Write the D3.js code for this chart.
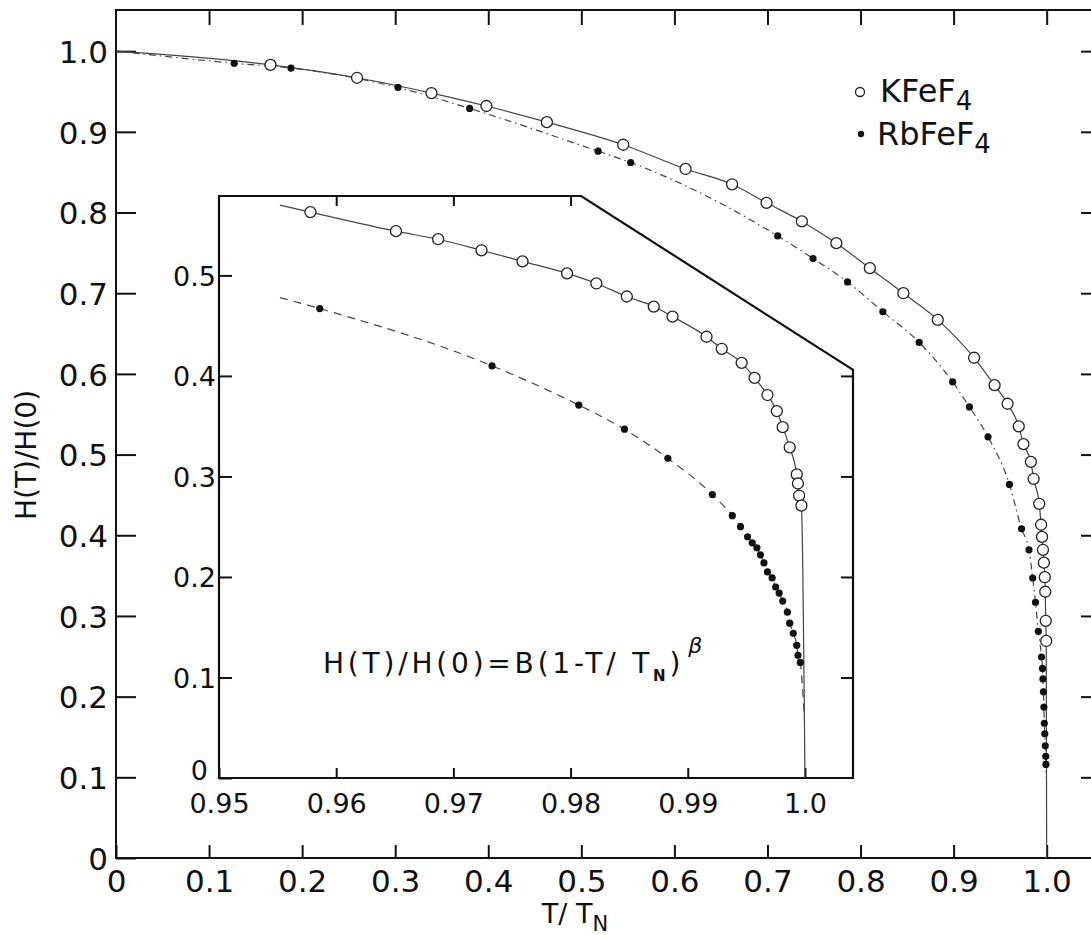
<!DOCTYPE html>
<meta charset="utf-8">
<style>
body { margin: 0; background: #fff; }
text { font-family: "DejaVu Sans", "Liberation Sans", sans-serif; fill: #111; }
.frame { fill: none; stroke: #111; stroke-width: 2px; }
.tick line { stroke: #111; stroke-width: 2px; }
.fit { fill: none; stroke: #444; stroke-width: 1.2px; }
</style>
<body>
<div id="chart"></div>
<script src="https://d3js.org/d3.v7.min.js"></script>
<script>
// main plot points [T/TN, H(T)/H(0)]
var kfeMain = [[0.166,0.983],[0.259,0.967],[0.339,0.948],[0.398,0.932],[0.463,0.912],[0.545,0.884],
  [0.612,0.854],[0.662,0.835],[0.699,0.812],[0.737,0.789],[0.774,0.762],[0.810,0.731],[0.846,0.700],
  [0.883,0.667],[0.922,0.620],[0.944,0.586],[0.958,0.563],[0.970,0.535],[0.975,0.513],[0.983,0.491],
  [0.986,0.470],[0.992,0.439],[0.994,0.413],[0.995,0.398],[0.996,0.382],[0.997,0.366],[0.998,0.348],
  [0.9985,0.330],[0.999,0.294],[0.9995,0.269]];
var rbfeMain = [[0.127,0.985],[0.188,0.979],[0.303,0.955],[0.380,0.929],[0.518,0.876],[0.553,0.862],
  [0.711,0.771],[0.749,0.743],[0.786,0.714],[0.824,0.677],[0.863,0.639],[0.899,0.590],[0.917,0.559],
  [0.937,0.522],[0.960,0.463],[0.973,0.408],[0.981,0.382],[0.985,0.347],[0.988,0.317],[0.991,0.281],
  [0.9945,0.249],[0.9955,0.235],[0.996,0.222],[0.9965,0.206],[0.997,0.187],[0.9975,0.167],
  [0.998,0.154],[0.9985,0.139],[0.999,0.126],[0.9992,0.116]];
// fit lines start / end
var kfeMainEnds = [[0,1.0],[1.0,0]];
var rbfeMainEnds = [[0,1.0],[0.9995,0.10]];

// inset points
var kfeInset = [[0.9578,0.563],[0.9651,0.544],[0.9687,0.536],[0.9724,0.525],[0.9759,0.514],[0.9797,0.502],
  [0.9822,0.492],[0.9848,0.479],[0.9871,0.469],[0.9887,0.459],[0.9916,0.439],[0.9929,0.427],[0.9946,0.413],
  [0.9957,0.398],[0.9968,0.381],[0.9976,0.365],[0.9981,0.349],[0.9987,0.329],[0.9993,0.302],[0.9994,0.293],
  [0.9995,0.281],[0.9997,0.271]];
var rbfeInset = [[0.9586,0.467],[0.9733,0.410],[0.9807,0.371],[0.9846,0.347],[0.9883,0.318],[0.9921,0.282],
  [0.9938,0.261],[0.9945,0.250],[0.9951,0.240],[0.9955,0.234],[0.9959,0.229],[0.9962,0.222],[0.9965,0.214],
  [0.9968,0.205],[0.9972,0.199],[0.9975,0.190],[0.9978,0.184],[0.9981,0.176],[0.9985,0.165],[0.9987,0.154],
  [0.9990,0.144],[0.9993,0.132],[0.9994,0.122],[0.9996,0.115]];
var kfeInsetEnds = [[0.9552,0.570],[1.0,0]];
var rbfeInsetEnds = [[0.9552,0.478],[0.99995,0.06]];

// tick labels
var mainXTicks = [0,0.1,0.2,0.3,0.4,0.5,0.6,0.7,0.8,0.9,1.0];
var mainYTicks = [0,0.1,0.2,0.3,0.4,0.5,0.6,0.7,0.8,0.9,1.0];
var insetXTicks = [0.95,0.96,0.97,0.98,0.99,1.0];
var insetYTicks = [0,0.1,0.2,0.3,0.4,0.5];

var width = 1091, height = 935;
var svg = d3.select("#chart").append("svg")
    .attr("width", width)
    .attr("height", height);

// main scales (frame runs past the right edge of the picture)
var x = d3.scaleLinear().domain([0, 1.053]).range([116, 1096]);
var y = d3.scaleLinear().domain([0, 1.051]).range([858, 10]);

function fmtMain(d) { return d === 0 ? "0" : d3.format(".1f")(d); }

// main frame
svg.append("rect").attr("class", "frame")
    .attr("x", x(0)).attr("y", y(1.051))
    .attr("width", x(1.053) - x(0)).attr("height", y(0) - y(1.051));

// main axes, ticks point inward
var gx = svg.append("g").attr("transform", "translate(0," + y(0) + ")")
    .call(d3.axisBottom(x).tickValues(mainXTicks).tickFormat(fmtMain)
      .tickSizeInner(-13).tickSizeOuter(0).tickPadding(12));
var gy = svg.append("g").attr("transform", "translate(" + x(0) + ",0)")
    .call(d3.axisLeft(y).tickValues(mainYTicks).tickFormat(fmtMain)
      .tickSizeInner(-20).tickSizeOuter(0).tickPadding(8));
var gt = svg.append("g").attr("transform", "translate(0," + y(1.051) + ")")
    .call(d3.axisTop(x).tickValues(mainXTicks.slice(1)).tickFormat("")
      .tickSizeInner(-15).tickSizeOuter(0));
var gr = svg.append("g").attr("transform", "translate(" + x(1.053) + ",0)")
    .call(d3.axisRight(y).tickValues(mainYTicks.slice(1)).tickFormat("")
      .tickSizeInner(-15).tickSizeOuter(0));
[gx, gy, gt, gr].forEach(function(g) {
  g.select(".domain").remove();
  g.selectAll("text").style("font-size", "31px").attr("fill", "#111");
});
gy.selectAll("text").attr("dy", "0.36em");

// main fit lines
var line = d3.line()
    .x(function(d) { return x(d[0]); })
    .y(function(d) { return y(d[1]); })
    .curve(d3.curveMonotoneX);
svg.append("path").attr("class", "fit")
    .attr("d", line([kfeMainEnds[0]].concat(kfeMain, [kfeMainEnds[1]])));
svg.append("path").attr("class", "fit")
    .style("stroke-dasharray", "7,4,1.5,4")
    .attr("d", line([rbfeMainEnds[0]].concat(rbfeMain, [rbfeMainEnds[1]])));

svg.selectAll(".kmain").data(kfeMain).enter().append("circle")
    .attr("cx", function(d) { return x(d[0]); })
    .attr("cy", function(d) { return y(d[1]); })
    .attr("r", 5.5).attr("fill", "#fff").attr("stroke", "#222").attr("stroke-width", 1.3);
svg.selectAll(".rmain").data(rbfeMain).enter().append("circle")
    .attr("cx", function(d) { return x(d[0]); })
    .attr("cy", function(d) { return y(d[1]); })
    .attr("r", 3.6).attr("fill", "#111");

// axis titles
svg.append("text")
    .attr("transform", "translate(36,455) rotate(-90)")
    .style("text-anchor", "middle").style("font-size", "28px")
    .text("H(T)/H(0)");
var xt = svg.append("text").attr("x", 575).attr("y", 923)
    .style("text-anchor", "middle").style("font-size", "27px");
xt.append("tspan").text("T/ T");
xt.append("tspan").attr("dy", 8).style("font-size", "21px").text("N");

// legend
var lg = svg.append("g");
lg.append("circle").attr("cx", 860).attr("cy", 92).attr("r", 4.5)
    .attr("fill", "#fff").attr("stroke", "#222").attr("stroke-width", 1.3);
lg.append("circle").attr("cx", 861).attr("cy", 134).attr("r", 3.2).attr("fill", "#111");
var l1 = lg.append("text").attr("x", 880).attr("y", 102).style("font-size", "32px");
l1.append("tspan").text("KFeF");
l1.append("tspan").attr("dy", 8).style("font-size", "26px").text("4");
var l2 = lg.append("text").attr("x", 877).attr("y", 145).style("font-size", "32px");
l2.append("tspan").text("RbFeF");
l2.append("tspan").attr("dy", 8).style("font-size", "26px").text("4");

// inset
var ix = d3.scaleLinear().domain([0.95, 1.0041]).range([219, 853]);
var iy = d3.scaleLinear().domain([0, 0.579]).range([778, 196]);

var outline = [[0.95,0],[0.95,0.579],[0.9809,0.579],[1.0041,0.406],[1.0041,0]];
svg.append("path")
    .attr("d", "M" + outline.map(function(p) { return ix(p[0]) + "," + iy(p[1]); }).join("L") + "Z")
    .attr("fill", "#fff").attr("stroke", "#111").attr("stroke-width", 2.2)
    .attr("stroke-linejoin", "miter");

function fmtInset(d) { return d === 0 ? "0" : d === 1 ? "1.0" : String(d); }

var ixg = svg.append("g").attr("transform", "translate(0," + iy(0) + ")")
    .call(d3.axisBottom(ix).tickValues(insetXTicks).tickFormat(fmtInset)
      .tickSizeInner(-10).tickSizeOuter(0).tickPadding(16));
var iyg = svg.append("g").attr("transform", "translate(" + ix(0.95) + ",0)")
    .call(d3.axisLeft(iy).tickValues(insetYTicks).tickFormat(fmtInset)
      .tickSizeInner(-13).tickSizeOuter(0).tickPadding(3));
var itg = svg.append("g").attr("transform", "translate(0," + iy(0.579) + ")")
    .call(d3.axisTop(ix).tickValues([0.96,0.97,0.98]).tickFormat("")
      .tickSizeInner(-10).tickSizeOuter(0));
var irg = svg.append("g").attr("transform", "translate(" + ix(1.0041) + ",0)")
    .call(d3.axisRight(iy).tickValues([0.1,0.2,0.3,0.4]).tickFormat("")
      .tickSizeInner(-12).tickSizeOuter(0));
[ixg, iyg, itg, irg].forEach(function(g) {
  g.select(".domain").remove();
  g.selectAll("text").style("font-size", "27px").attr("fill", "#111");
});
iyg.selectAll("text").attr("dy", "0.36em");
// the inset "0" sits a little higher and further left, clear of 0.95
iyg.selectAll("text").filter(function(d) { return d === 0; })
    .attr("x", -11).attr("dy", "0.05em");

var iline = d3.line()
    .x(function(d) { return ix(d[0]); })
    .y(function(d) { return iy(d[1]); })
    .curve(d3.curveMonotoneX);
svg.append("path").attr("class", "fit")
    .attr("d", iline([kfeInsetEnds[0]].concat(kfeInset, [kfeInsetEnds[1]])));
svg.append("path").attr("class", "fit")
    .style("stroke-dasharray", "8,6")
    .attr("d", iline([rbfeInsetEnds[0]].concat(rbfeInset, [rbfeInsetEnds[1]])));

svg.selectAll(".kin").data(kfeInset).enter().append("circle")
    .attr("cx", function(d) { return ix(d[0]); })
    .attr("cy", function(d) { return iy(d[1]); })
    .attr("r", 5.5).attr("fill", "#fff").attr("stroke", "#222").attr("stroke-width", 1.3);
svg.selectAll(".rin").data(rbfeInset).enter().append("circle")
    .attr("cx", function(d) { return ix(d[0]); })
    .attr("cy", function(d) { return iy(d[1]); })
    .attr("r", 3.6).attr("fill", "#111");

// fit formula
var ft = svg.append("text").attr("x", 323).attr("y", 673)
    .style("font-size", "28px").style("letter-spacing", "3.8px");
ft.append("tspan").text("H(T)/H(0)=B(1-T/ T");
ft.append("tspan").attr("dy", 8).style("font-size", "15px").style("font-weight", "bold").text("N");
ft.append("tspan").attr("dy", -8).text(")");
ft.append("tspan").attr("dy", -20).attr("dx", 4).style("font-size", "22px").style("font-style", "italic").text("β");
</script>
</body>
